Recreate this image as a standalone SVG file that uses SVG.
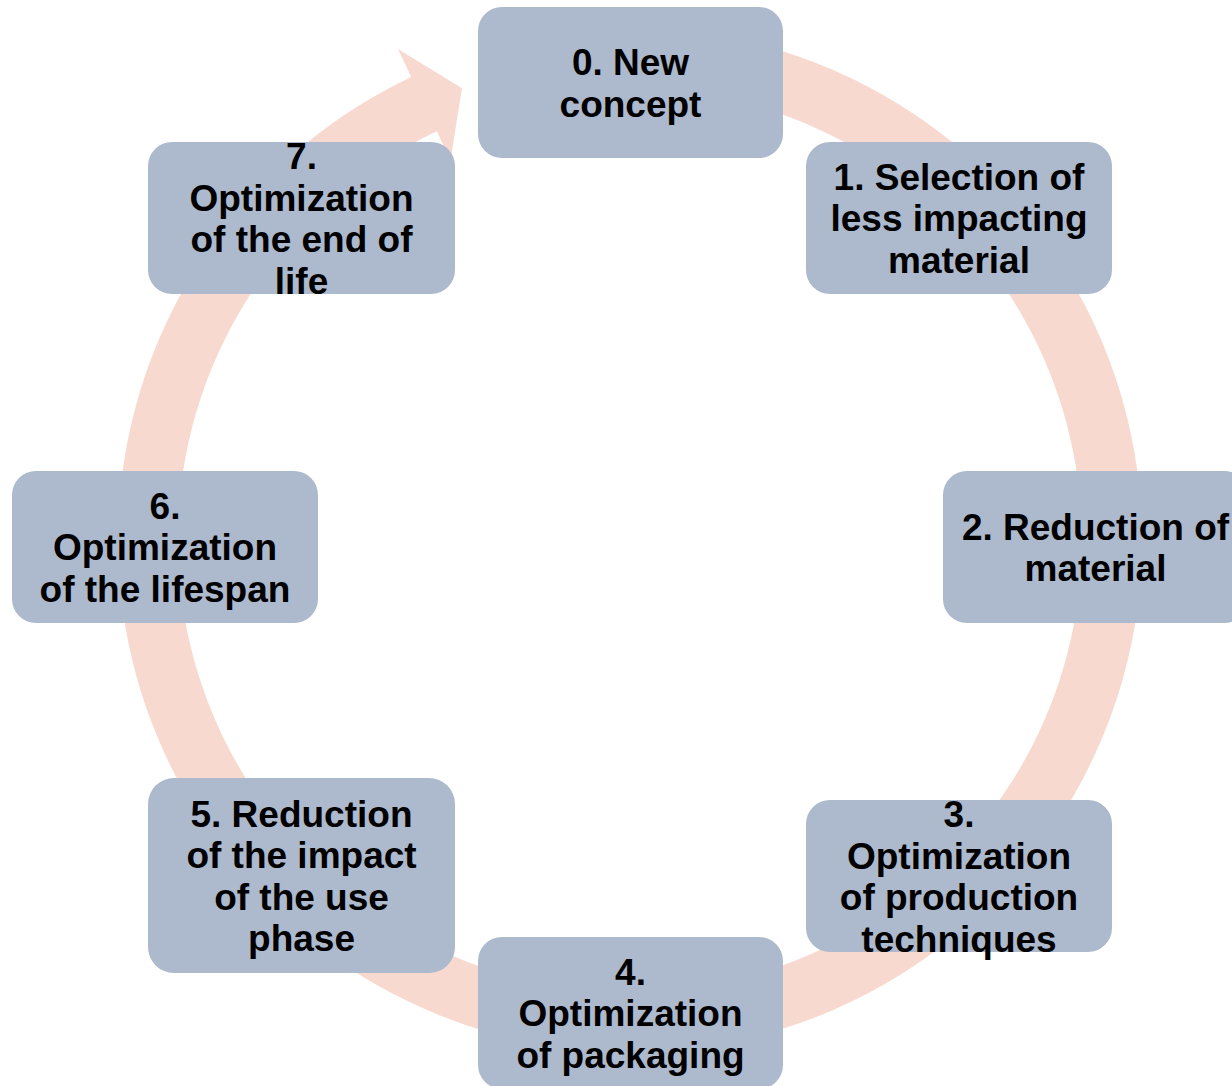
<svg xmlns="http://www.w3.org/2000/svg" width="1232" height="1086" viewBox="0 0 1232 1086">
  <style>
    .ring { fill: #F8D9CF; stroke: none; }
    .box { fill: #ADB9CC; stroke: none; }
    .label { font-family: "Liberation Sans", Arial, sans-serif; font-weight: bold; font-size: 37px; fill: #000000; text-anchor: middle; }
  </style>
  <rect width="1232" height="1086" fill="#FFFFFF"/>

  <!-- circular arrow running clockwise behind the steps -->
  <g id="connectors">
    <path class="ring" d="M630,28 A512,512 0 1 1 411.2,77.1 L397.9,49.1 L462,88.2 L450.5,160.3 L436.8,131.3 A452,452 0 1 0 630,88 Z"/>
  </g>

  <g id="node-0">
    <rect class="box" x="478" y="7" width="305" height="151" rx="24"/>
    <text class="label"><tspan x="630.5" y="75">0. New</tspan><tspan x="630.5" y="116.5">concept</tspan></text>
  </g>

  <g id="node-1">
    <rect class="box" x="806" y="142" width="306" height="152" rx="24"/>
    <text class="label"><tspan x="959" y="189.5">1. Selection of</tspan><tspan x="959" y="231">less impacting</tspan><tspan x="959" y="272.5">material</tspan></text>
  </g>

  <g id="node-2">
    <rect class="box" x="943" y="471" width="305" height="152" rx="24"/>
    <text class="label"><tspan x="1095.5" y="539.5">2. Reduction of</tspan><tspan x="1095.5" y="581">material</tspan></text>
  </g>

  <g id="node-3">
    <rect class="box" x="806" y="800" width="306" height="152" rx="24"/>
    <text class="label"><tspan x="959" y="827">3.</tspan><tspan x="959" y="868.5">Optimization</tspan><tspan x="959" y="910">of production</tspan><tspan x="959" y="951.5">techniques</tspan></text>
  </g>

  <g id="node-4">
    <rect class="box" x="478" y="937" width="305" height="152" rx="24"/>
    <text class="label"><tspan x="630.5" y="984.5">4.</tspan><tspan x="630.5" y="1026">Optimization</tspan><tspan x="630.5" y="1067.5">of packaging</tspan></text>
  </g>

  <g id="node-5">
    <rect class="box" x="148" y="778" width="307" height="195" rx="26"/>
    <text class="label"><tspan x="301.5" y="826.5">5. Reduction</tspan><tspan x="301.5" y="868">of the impact</tspan><tspan x="301.5" y="909.5">of the use</tspan><tspan x="301.5" y="951">phase</tspan></text>
  </g>

  <g id="node-6">
    <rect class="box" x="12" y="471" width="306" height="152" rx="24"/>
    <text class="label"><tspan x="165" y="518.5">6.</tspan><tspan x="165" y="560">Optimization</tspan><tspan x="165" y="601.5">of the lifespan</tspan></text>
  </g>

  <g id="node-7">
    <rect class="box" x="148" y="142" width="307" height="152" rx="24"/>
    <text class="label"><tspan x="301.5" y="169">7.</tspan><tspan x="301.5" y="210.5">Optimization</tspan><tspan x="301.5" y="252">of the end of</tspan><tspan x="301.5" y="293.5">life</tspan></text>
  </g>
</svg>
